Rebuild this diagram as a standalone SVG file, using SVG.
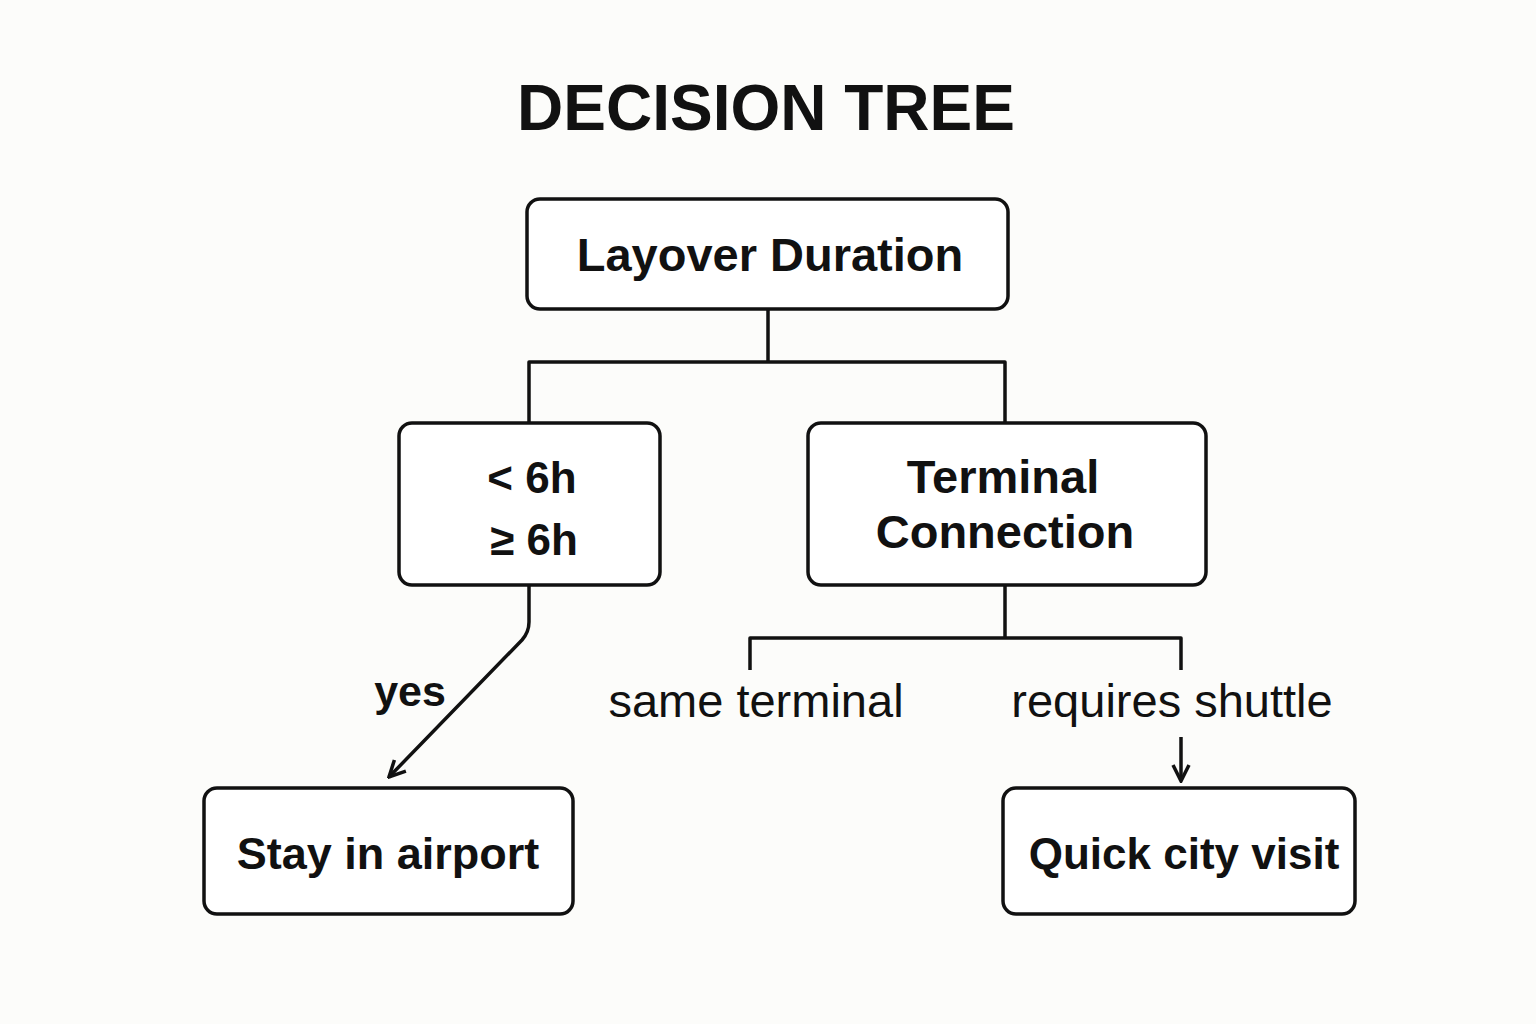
<svg xmlns="http://www.w3.org/2000/svg" width="1536" height="1024" viewBox="0 0 1536 1024">
<style>
.box{fill:#ffffff;stroke:#111;stroke-width:3.5}
.ln{fill:none;stroke:#111;stroke-width:3.5;stroke-linejoin:round}
.t{font-family:"Liberation Sans",Arial,sans-serif;fill:#111;text-anchor:middle}
.b{font-weight:bold}
.lab{font-size:47px}
</style>
<defs>
<marker id="arr" viewBox="0 0 20 20" refX="18" refY="10" markerWidth="20" markerHeight="20" markerUnits="userSpaceOnUse" orient="auto">
<path d="M2,2 L18,10 L2,18" fill="none" stroke="#111" stroke-width="3.5"/>
</marker>
</defs>
<rect width="1536" height="1024" fill="#fcfcfa"/>
<text class="t" x="766" y="130" font-size="64" font-weight="bold">DECISION TREE</text>
<g id="connectors">
<path class="ln" d="M768,309 V362 M529,423 V362 H1005 V423"/>
<path class="ln" d="M529,585 V622 Q529,632 522,640 L389,777" marker-end="url(#arr)"/>
<path class="ln" d="M1005,585 V638 M750,670 V638 H1181 V670"/>
<path class="ln" d="M1181,737 V781" marker-end="url(#arr)"/>
<text class="t" x="410" y="706" font-weight="bold" font-size="43">yes</text>
<text class="t lab" x="756" y="717">same terminal</text>
<text class="t lab" x="1172" y="717">requires shuttle</text>
</g>
<g id="layover">
<rect class="box" x="527" y="199" width="481" height="110" rx="13"/>
<text class="t b" x="770" y="271" font-size="47">Layover Duration</text>
</g>
<g id="hours">
<rect class="box" x="399" y="423" width="261" height="162" rx="13"/>
<text class="t b" x="532" y="493" font-size="44">&lt; 6h</text>
<text class="t b" x="534" y="555" font-size="44">≥ 6h</text>
</g>
<g id="terminal">
<rect class="box" x="808" y="423" width="398" height="162" rx="13"/>
<text class="t b" x="1003" y="493" font-size="47">Terminal</text>
<text class="t b" x="1005" y="548" font-size="47">Connection</text>
</g>
<g id="stay">
<rect class="box" x="204" y="788" width="369" height="126" rx="13"/>
<text class="t b" x="388" y="869" font-size="45">Stay in airport</text>
</g>
<g id="quick">
<rect class="box" x="1003" y="788" width="352" height="126" rx="13"/>
<text class="t b" x="1184" y="869" font-size="44">Quick city visit</text>
</g>
</svg>
